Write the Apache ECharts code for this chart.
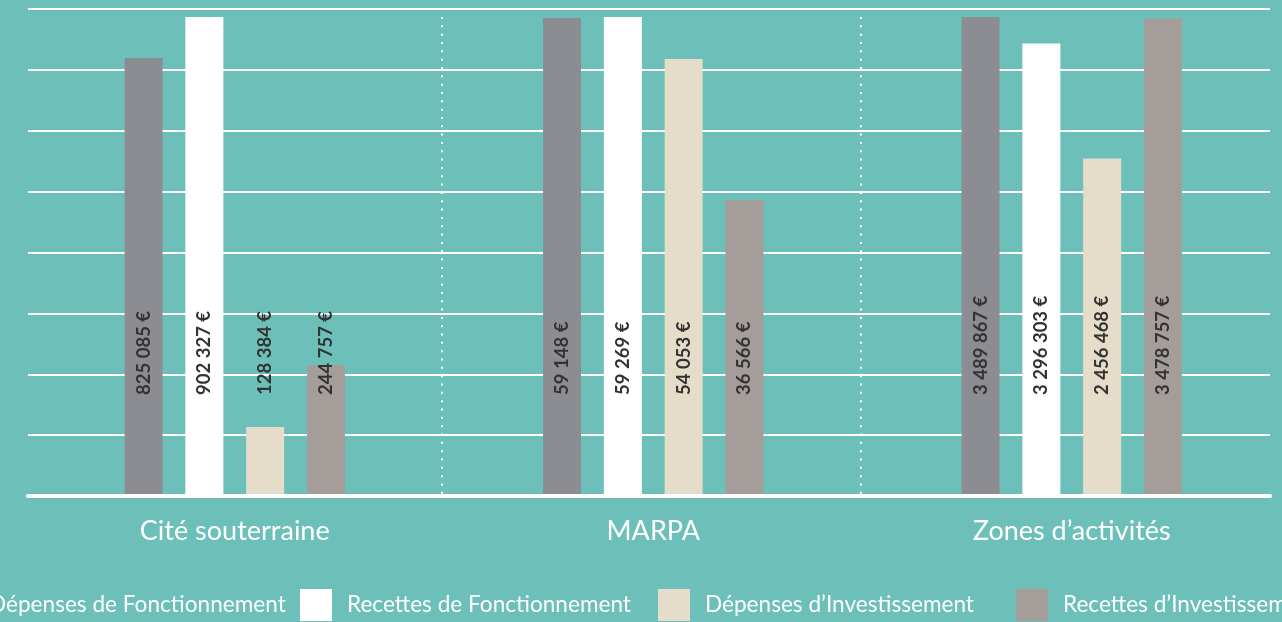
<!DOCTYPE html>
<html>
<head>
<meta charset="utf-8">
<script src="https://cdn.jsdelivr.net/npm/echarts@6/dist/echarts.min.js"></script>
<style>
html,body{margin:0;padding:0;background:#6cc0b9;}
#chart{width:1282px;height:622px;}
</style>
</head>
<body>
<div id="chart"></div>
<script>
const categories = ['Cité souterraine', 'MARPA', 'Zones d’activités'];
const seriesNames = ['Dépenses de Fonctionnement', 'Recettes de Fonctionnement', 'Dépenses d’Investissement', 'Recettes d’Investissement'];
const depensesFonctionnement = [825085, 59148, 3489867];
const recettesFonctionnement = [902327, 59269, 3296303];
const depensesInvestissement = [128384, 54053, 2456468];
const recettesInvestissement = [244757, 36566, 3478757];
const colors = ['#8c8d92', '#ffffff', '#e5dcc9', '#a59d99'];

const allSeries = [depensesFonctionnement, recettesFonctionnement, depensesInvestissement, recettesInvestissement];
const FONT = '"Source Sans Pro", Lato, "Noto Sans", sans-serif';

function fmt(v) {
  return String(v).replace(/\B(?=(\d{3})+(?!\d))/g, ' ') + ' €';
}

const grids = [];
const xAxes = [];
const yAxes = [];
const series = [];

// background grid: horizontal lines + baseline
grids.push({left: 28, right: 12, top: 9, bottom: 126});
xAxes.push({gridIndex: 0, type: 'value', min: 0, max: 1, z: 10,
  axisLine: {show: true, onZero: false, lineStyle: {color: '#ffffff', width: 4}},
  axisTick: {show: false}, axisLabel: {show: false}, splitLine: {show: false}});
yAxes.push({gridIndex: 0, type: 'value', min: 0, max: 8, interval: 1,
  axisLine: {show: false}, axisTick: {show: false}, axisLabel: {show: false},
  splitLine: {show: true, lineStyle: {color: '#ffffff', width: 2}}});

// separators grid
grids.push({left: 442, width: 419, top: 17, bottom: 127});
xAxes.push({gridIndex: 1, type: 'value', min: 0, max: 1, interval: 1,
  axisLine: {show: false}, axisTick: {show: false}, axisLabel: {show: false},
  splitLine: {show: true, lineStyle: {color: '#ffffff', width: 2, type: [2, 6.33]}}});
yAxes.push({gridIndex: 1, type: 'value', show: false});

const groupW = 418.5;
categories.forEach((cat, gi) => {
  const idx = gi + 2;
  grids.push({left: 25.5 + groupW * gi, width: groupW, top: 17, bottom: 127});
  xAxes.push({gridIndex: idx, type: 'category', data: [cat],
    axisLine: {show: false}, axisTick: {show: false}, splitLine: {show: false},
    axisLabel: {color: '#ffffff', fontSize: 27, fontFamily: FONT, margin: 23}});
  const groupMax = Math.max(...allSeries.map(s => s[gi]));
  yAxes.push({gridIndex: idx, type: 'value', min: 0, max: groupMax, show: false, splitLine: {show: false}});
  allSeries.forEach((arr, si) => {
    series.push({
      name: seriesNames[si],
      type: 'bar',
      xAxisIndex: idx,
      yAxisIndex: idx,
      data: [arr[gi]],
      barWidth: 38,
      barGap: '60%',
      itemStyle: {color: colors[si]},
      label: {
        show: true,
        position: 'insideBottom',
        distance: 100,
        rotate: 90,
        align: 'left',
        verticalAlign: 'middle',
        color: '#333333',
        fontSize: 18.5,
        fontWeight: 'bold',
        fontFamily: FONT,
        formatter: p => fmt(p.value)
      }
    });
  });
});

const legends = seriesNames.map((n, i) => ({
  data: [{name: n, icon: 'rect', itemStyle: {color: colors[i]}}],
  left: -63 + 358 * i,
  top: 584,
  itemWidth: 32,
  itemHeight: 32,
  selectedMode: false,
  textStyle: {color: '#ffffff', fontSize: 22.6, fontFamily: FONT, padding: [0, 0, 0, 10]}
}));

const chart = echarts.init(document.getElementById('chart'));
chart.setOption({
  backgroundColor: '#6cc0b9',
  animation: false,
  color: colors,
  grid: grids,
  xAxis: xAxes,
  yAxis: yAxes,
  legend: legends,
  series: series
});
</script>
</body>
</html>
